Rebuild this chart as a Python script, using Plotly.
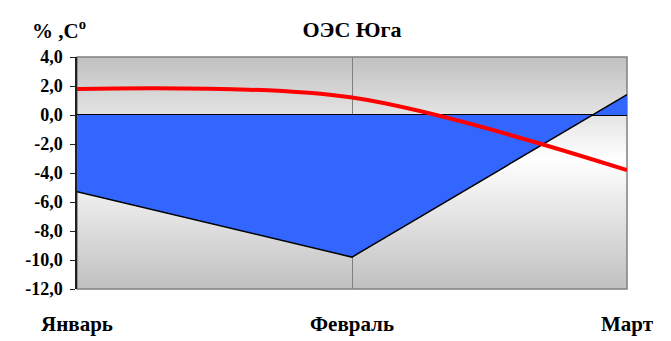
import base64
import struct
import zlib

import plotly.graph_objects as go

months = ["Январь", "Февраль", "Март"]
area_values = [-5.3, -9.8, 1.4]      # blue area
temp_values = [1.8, 1.2, -3.8]       # red smoothed line
y_ticks = [4, 2, 0, -2, -4, -6, -8, -10, -12]
y_tick_labels = ["4,0", "2,0", "0,0", "-2,0", "-4,0", "-6,0", "-8,0", "-10,0", "-12,0"]

serif = "Liberation Serif"


def gradient_png(h=232, white_at=0.44):
    # grey -> white -> grey vertical strip, white_at measured from the top
    rows = b""
    for r in range(h):
        f = (r + 0.5) / h
        t = f / white_at if f < white_at else (1 - f) / (1 - white_at)
        v = int(round(192 + 63 * t))
        rows += b"\x00" + bytes([v, v, v]) * 2
    def chunk(tag, data):
        c = struct.pack(">I", len(data)) + tag + data
        return c + struct.pack(">I", zlib.crc32(tag + data) & 0xFFFFFFFF)
    png = b"\x89PNG\r\n\x1a\n"
    png += chunk(b"IHDR", struct.pack(">IIBBBBB", 2, h, 8, 2, 0, 0, 0))
    png += chunk(b"IDAT", zlib.compress(rows))
    png += chunk(b"IEND", b"")
    return "data:image/png;base64," + base64.b64encode(png).decode()


fig = go.Figure()

fig.add_trace(go.Scatter(
    x=months, y=area_values, mode="lines", fill="tozeroy",
    fillcolor="#3366ff", line=dict(color="black", width=1.5),
    hoverinfo="skip", showlegend=False,
))
fig.add_trace(go.Scatter(
    x=months, y=temp_values, mode="lines",
    line=dict(color="#ff0000", width=4, shape="spline", smoothing=0.9),
    showlegend=False,
))

# the page body adds an 8px offset, so the figure is 8px smaller
fig.update_layout(
    width=663, height=333,
    margin=dict(l=69, r=44, t=49, b=52, autoexpand=False),
    paper_bgcolor="white", plot_bgcolor="white",
    title=dict(
        text="ОЭС Юга", x=0.5, xref="paper", xanchor="center",
        y=1 - 21 / 333, yref="container", yanchor="middle",
        font=dict(family=serif, size=22, weight="bold", color="black"),
    ),
    images=[dict(
        source=gradient_png(), xref="paper", yref="paper",
        x=0, y=1, sizex=1, sizey=1, sizing="stretch",
        xanchor="left", yanchor="top", layer="below",
    )],
    shapes=[dict(
        type="rect", xref="paper", yref="paper",
        x0=0, x1=1, y0=0, y1=1, layer="below",
        line=dict(color="#808080", width=1.5), fillcolor="rgba(0,0,0,0)",
    )],
    annotations=[dict(
        text="% ,C<sup>o</sup>", xref="paper", yref="paper",
        x=-0.086, y=1.12, xanchor="left", yanchor="middle", showarrow=False,
        font=dict(family=serif, size=21, weight="bold", color="black"),
    )],
    xaxis=dict(
        type="category", range=[0, 2], showline=False, automargin=False,
        showgrid=True, gridcolor="#808080", gridwidth=1.2,
        zeroline=False, ticks="", ticklabelstandoff=20,
        tickfont=dict(family=serif, size=21, weight="bold", color="black"),
    ),
    yaxis=dict(
        range=[-12, 4], tickvals=y_ticks, ticktext=y_tick_labels, automargin=False,
        showgrid=False, zeroline=True, zerolinecolor="black", zerolinewidth=1.5,
        showline=True, linecolor="#202020", linewidth=1.5,
        ticks="outside", ticklen=5, tickcolor="#202020",
        ticklabelstandoff=4,
        tickfont=dict(family=serif, size=18, weight="bold", color="black"),
    ),
)

fig.write_html("out.html")
